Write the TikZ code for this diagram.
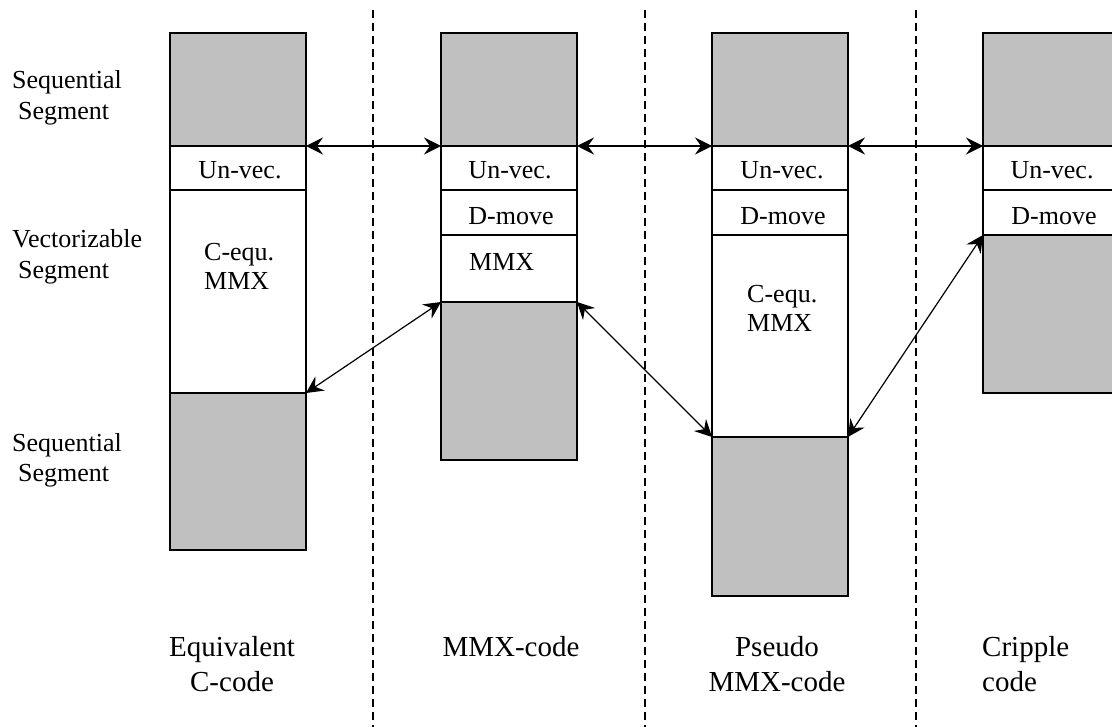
\documentclass[tikz,border=0pt]{standalone}
\usepackage{fontspec}
\setmainfont{Liberation Serif}
\usetikzlibrary{arrows.meta}
\definecolor{segfill}{RGB}{192,192,192}
\begin{document}
\begin{tikzpicture}[x=1pt,y=-1pt,
  seg/.style={draw, line width=1.6pt, minimum width=136pt, inner sep=0pt, outer sep=0pt},
  gseg/.style={seg, fill=segfill},
  wseg/.style={seg, fill=white},
  lbl/.style={font=\fontsize{26}{31}\selectfont, inner sep=0pt, align=left},
  boxlbl/.style={font=\fontsize{26}{29}\selectfont, inner sep=0pt, align=left},
  blbl/.style={font=\fontsize{29}{35}\selectfont, inner sep=0pt},
  link/.style={line width=1.2pt, {Stealth[length=17pt,width=17pt,inset=6pt]}-{Stealth[length=17pt,width=17pt,inset=6pt]}},
  sepline/.style={dash pattern=on 8pt off 5pt, line width=1.5pt}]
\useasboundingbox (0,0) rectangle (1112,727);
\clip (0,0) rectangle (1112,727);
% separators
\coordinate (s1t) at (373,10); \coordinate (s1b) at (373,727);
\coordinate (s2t) at (645,10); \coordinate (s2b) at (645,727);
\coordinate (s3t) at (916,10); \coordinate (s3b) at (916,727);
\draw[sepline] (s1t) -- (s1b);
\draw[sepline] (s2t) -- (s2b);
\draw[sepline] (s3t) -- (s3b);
% column 1
\node[gseg, minimum height=113pt] (c1s) at (238,89.5) {};
\node[wseg, minimum height=44pt] (c1u) at (238,168) {};
\node[wseg, minimum height=203pt] (c1v) at (238,291.5) {};
\node[gseg, minimum height=157pt] (c1b) at (238,471.5) {};
% column 2
\node[gseg, minimum height=113pt] (c2s) at (509,89.5) {};
\node[wseg, minimum height=44pt] (c2u) at (509,168) {};
\node[wseg, minimum height=45pt] (c2d) at (509,212.5) {};
\node[wseg, minimum height=67pt] (c2m) at (509,268.5) {};
\node[gseg, minimum height=158pt] (c2b) at (509,381) {};
% column 3
\node[gseg, minimum height=113pt] (c3s) at (780,89.5) {};
\node[wseg, minimum height=44pt] (c3u) at (780,168) {};
\node[wseg, minimum height=45pt] (c3d) at (780,212.5) {};
\node[wseg, minimum height=202pt] (c3v) at (780,336) {};
\node[gseg, minimum height=159pt] (c3b) at (780,516.5) {};
% column 4
\node[gseg, minimum height=113pt] (c4s) at (1051,89.5) {};
\node[wseg, minimum height=44pt] (c4u) at (1051,168) {};
\node[wseg, minimum height=45pt] (c4d) at (1051,212.5) {};
\node[gseg, minimum height=158pt] (c4b) at (1051,314) {};
% texts in boxes
\node[boxlbl, anchor=base] (t1u) at (240,179) {Un-vec.};
\node[boxlbl, anchor=base west] (t1v) at (204,290) {C-equ.\\MMX};
\node[boxlbl, anchor=base] (t2u) at (510,179) {Un-vec.};
\node[boxlbl, anchor=base] (t2d) at (511,225) {D-move};
\node[boxlbl, anchor=base west] (t2m) at (469,271) {MMX};
\node[boxlbl, anchor=base] (t3u) at (782,179) {Un-vec.};
\node[boxlbl, anchor=base] (t3d) at (783,225) {D-move};
\node[boxlbl, anchor=base west] (t3v) at (747,332) {C-equ.\\MMX};
\node[boxlbl, anchor=base] (t4u) at (1052,179) {Un-vec.};
\node[boxlbl, anchor=base] (t4d) at (1054,225) {D-move};
% left labels
\node[lbl, anchor=base west] (l1) at (12,120) {Sequential\\\hspace{6pt}Segment};
\node[lbl, anchor=base west] (l2) at (12,279) {Vectorizable\\\hspace{6pt}Segment};
\node[lbl, anchor=base west] (l3) at (12,482) {Sequential\\\hspace{6pt}Segment};
% bottom labels
\node[blbl, align=center, anchor=base] (b1) at (232,691) {Equivalent\\C-code};
\node[blbl, align=center, anchor=base] (b2) at (511,656) {MMX-code};
\node[blbl, align=center, anchor=base] (b3) at (777,691) {Pseudo\\MMX-code};
\node[blbl, align=left, anchor=base west] (b4) at (982,691) {Cripple\\code};
% connectors
\draw[link] (c1s.south east) -- (c2s.south west);
\draw[link] (c2s.south east) -- (c3s.south west);
\draw[link] (c3s.south east) -- (c4s.south west);
\draw[link] (c1b.north east) -- (c2b.north west);
\draw[link] (c2b.north east) -- (c3b.north west);
\draw[link] (c3b.north east) -- (c4b.north west);
\end{tikzpicture}
\end{document}
